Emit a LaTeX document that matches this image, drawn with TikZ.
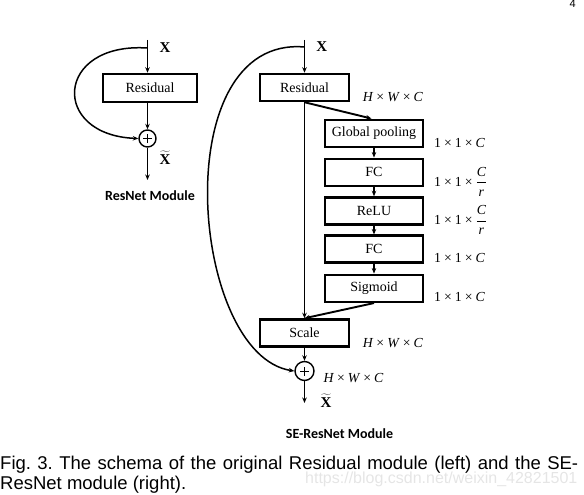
\documentclass[tikz,border=0pt]{standalone}
\usepackage{fontspec}
\setmainfont{Liberation Serif}
\newfontfamily\capfont{Liberation Sans}
\newfontfamily\titlefont{Carlito}
\usetikzlibrary{arrows.meta}
\newcommand{\tms}{\hspace{3pt}×\hspace{3pt}}
\newcommand{\hwc}{\textit{H}\tms\textit{W}\tms\textit{C}}
\newcommand{\oneC}{1\tms1\tms\textit{C}}
\newcommand{\oneCr}{1\tms1\tms$\displaystyle\frac{\textit{C}}{\textit{r}}$}
\newcommand{\xtil}{$\widetilde{\textbf{X}}$}
\begin{document}
\begin{tikzpicture}[x=1pt,y=-1pt,
  blk/.style={draw, line width=2.5pt, inner sep=0pt, minimum height=27pt,
    font=\fontsize{14}{15}\selectfont},
  ln/.style={line width=1.9pt},
  arr/.style={ln, -{Stealth[length=5.5pt,width=4.5pt]}},
  carr/.style={line width=1.5pt, -{Stealth[length=5.5pt,width=4.5pt]}},
  plusc/.style={circle, draw, line width=1.4pt, minimum size=#1, inner sep=0pt,
    path picture={\draw[line width=0.8pt]
      ([xshift=-4.5pt]path picture bounding box.center) -- ([xshift=4.5pt]path picture bounding box.center)
      ([yshift=-4.5pt]path picture bounding box.center) -- ([yshift=4.5pt]path picture bounding box.center);}},
  dimlbl/.style={anchor=west, inner sep=0pt, font=\fontsize{13.8}{15}\selectfont},
  xlbl/.style={inner sep=0pt, font=\fontsize{15}{17}\selectfont\bfseries},
  ttl/.style={inner sep=0pt, font=\fontsize{14}{16}\selectfont\titlefont\bfseries}
]
\useasboundingbox (0,0) rectangle (584,495);

% ---------- left: ResNet module ----------
\coordinate (ltop) at (147.5,40);
\coordinate (lstart) at (147.5,48);
\node[blk, minimum width=94pt, minimum height=28pt] (lres) at (150,88) {Residual};
\node[plusc=17pt] (lplus) at (147.5,138.5) {};
\coordinate (lout) at (147.5,180);
\draw[arr] (ltop) -- (ltop |- lres.north);
\draw[arr] (lplus |- lres.south) -- (lplus.north);
\draw[carr] (lstart) .. controls (55,42) and (50,135) .. (lplus.west);
\draw[arr] (lplus.south) -- (lout);
\node[xlbl] (lx) at (165,48) {X};
\node[xlbl] (lxt) at (165,158) {\xtil};
\node[ttl] (lttl) at (150,195.5) {ResNet Module};

% ---------- right: SE-ResNet module ----------
\coordinate (rtop) at (304.5,40);
\coordinate (rstart) at (304.5,47);
\node[blk, minimum width=89pt] (rres) at (304.5,87.5) {Residual};
\node[blk, minimum width=98pt] (gp)  at (374,133.3) {Global pooling};
\node[blk, minimum width=98pt] (fc1) at (374,172.3) {FC};
\node[blk, minimum width=98pt] (relu) at (374,211) {ReLU};
\node[blk, minimum width=98pt] (fc2) at (374,249.2) {FC};
\node[blk, minimum width=98pt] (sig) at (374,288.3) {Sigmoid};
\node[blk, minimum width=89pt] (scale) at (304.5,333) {Scale};
\node[plusc=19pt] (rplus) at (304.5,371) {};
\coordinate (rout) at (304.5,403);

\draw[arr] (rtop) -- (rres.north);
\draw[arr] (rres.south) -- ([xshift=-2.5pt]gp.north);
\draw[arr] (gp) -- (fc1);
\draw[arr] (fc1) -- (relu);
\draw[arr] (relu) -- (fc2);
\draw[arr] (fc2) -- (sig);
\draw[arr] (rres.south) -- (scale.north);
\draw[arr] (sig.south) -- (scale.north);
\draw[arr] (scale) -- (rplus);
\draw[carr] (rstart) .. controls (165,35) and (190,355) .. (rplus.west);
\draw[arr] (rplus.south) -- (rout);

\node[xlbl] (rx) at (321.7,47) {X};
\node[xlbl] (rxt) at (326,401) {\xtil};

\node[dimlbl] (d1) at (362.7,96.7) {\hwc};
\node[dimlbl] (d2) at (434,143.3) {\oneC};
\node[dimlbl] (d3) at (434,181.7) {\oneCr};
\node[dimlbl] (d4) at (434,220) {\oneCr};
\node[dimlbl] (d5) at (434,258.3) {\oneC};
\node[dimlbl] (d6) at (434,296.7) {\oneC};
\node[dimlbl] (d7) at (362.7,343.3) {\hwc};
\node[dimlbl] (d8) at (323.3,378.3) {\hwc};

\node[ttl] (rttl) at (339.5,433.3) {SE-ResNet Module};

% ---------- page number, caption, watermark ----------
\node[inner sep=0pt, font=\capfont\fontsize{11}{12}\selectfont] (pg) at (572.7,4) {4};
\node[anchor=base west, inner sep=0pt, text=black!10, font=\capfont\fontsize{16}{18}\selectfont] (wm) at (305,483.5) {https://blog.csdn.net/weixin\_42821501};
\node[anchor=base west, inner sep=0pt, font=\capfont\fontsize{18.5}{20}\selectfont] (cap1) at (0,469.5)
  {\frenchspacing\makebox[578pt][s]{Fig. 3. The schema of the original Residual module (left) and the SE-}};
\node[anchor=base west, inner sep=0pt, font=\capfont\fontsize{18.5}{20}\selectfont] (cap2) at (0,489.5)
  {ResNet module (right).};
\end{tikzpicture}
\end{document}
